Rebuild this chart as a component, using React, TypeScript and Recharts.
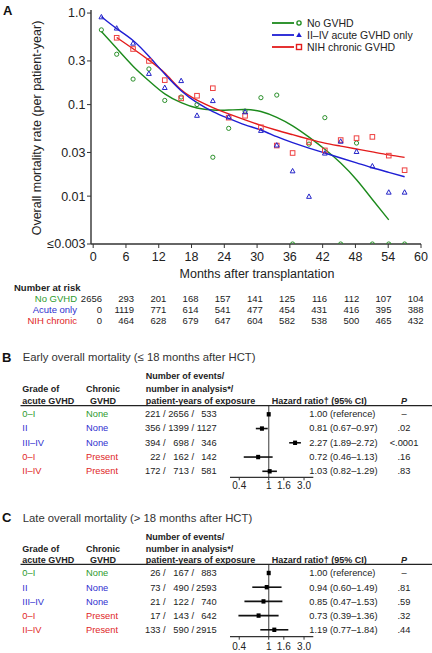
import React from "react";
import {
  ComposedChart,
  Line,
  Scatter,
  XAxis,
  YAxis,
  ReferenceLine,
  ErrorBar,
} from "recharts";

// ---- panel A: mortality rate per 3-month interval (points at interval midpoints)
const intervalMonths = [1.5, 4.3, 7.3, 10.2, 13.1, 16.1, 19.0, 21.9, 24.8, 27.8, 30.7, 33.6, 36.5, 39.5, 42.4, 45.3, 48.2, 51.1, 54.1, 57.0];
const noGvhdRate = [0.655, 0.355, 0.19, 0.245, 0.111, 0.121, 0.1, 0.0266, 0.055, 0.085, 0.119, 0.127, 0.003, 0.037, 0.072, 0.003, 0.038, 0.003, 0.003, 0.003];
const acuteRate = [0.905, 0.682, 0.467, 0.218, 0.153, 0.182, 0.076, 0.11, 0.073, 0.083, 0.052, 0.036, 0.0188, 0.0099, 0.0294, 0.0396, 0.0306, 0.0213, 0.011, 0.011];
const chronicRate = [null, 0.537, 0.405, 0.3, 0.185, 0.117, 0.125, 0.151, 0.072, 0.0755, 0.0565, 0.0357, 0.0296, 0.039, 0.0316, 0.041, 0.043, 0.0444, 0.0277, 0.0192];

// smoothed fits at the same months
const noGvhdFit = [0.629, 0.412, 0.263, 0.182, 0.131, 0.105, 0.0917, 0.0872, 0.0872, 0.0883, 0.084, 0.0724, 0.0586, 0.0441, 0.0325, 0.023, 0.0151, 0.0092, 0.0055, null];
const acuteFit = [0.912, 0.677, 0.502, 0.337, 0.216, 0.142, 0.105, 0.084, 0.0706, 0.0601, 0.0528, 0.0446, 0.0384, 0.0335, 0.0296, 0.0261, 0.0231, 0.0204, 0.0182, 0.0163];
const chronicFit = [null, 0.541, 0.407, 0.306, 0.221, 0.145, 0.112, 0.0928, 0.079, 0.068, 0.0593, 0.0524, 0.0469, 0.0419, 0.0379, 0.0352, 0.0327, 0.0304, 0.0282, 0.0265];

const monthTicks = [0, 6, 12, 18, 24, 30, 36, 42, 48, 54, 60];
const minorMonthTicks = [3, 9, 15, 21, 27, 33, 39, 45, 51, 57];
const rateTicks = [0.003, 0.01, 0.03, 0.1, 0.3, 1];
const minorRateTicks = [0.004, 0.005, 0.006, 0.007, 0.008, 0.009, 0.02, 0.04, 0.05, 0.06, 0.07, 0.08, 0.09, 0.2, 0.4, 0.5, 0.6, 0.7, 0.8, 0.9];

// number at risk
const riskMonths = [0, 6, 12, 18, 24, 30, 36, 42, 48, 54, 60];
const riskNoGvhd = [2656, 293, 201, 168, 157, 141, 125, 116, 112, 107, 104];
const riskAcute = [0, 1119, 771, 614, 541, 477, 454, 431, 416, 395, 388];
const riskChronic = [0, 464, 628, 679, 647, 604, 582, 538, 500, 465, 432];

// ---- panels B and C
const gradeLabels = ["0–I", "II", "III–IV", "0–I", "II–IV"];
const chronicLabels = ["None", "None", "None", "Present", "Present"];
const rowGroups = ["none", "acute", "acute", "chronic", "chronic"];

const earlyEvents = [221, 356, 394, 22, 172];
const earlyN = [2656, 1399, 698, 162, 713];
const earlyYears = [533, 1127, 346, 142, 581];
const earlyHR = [1.0, 0.81, 2.27, 0.72, 1.03];
const earlyLow = [null, 0.67, 1.89, 0.46, 0.82];
const earlyHigh = [null, 0.97, 2.72, 1.13, 1.29];
const earlyP = ["–", ".02", "<.0001", ".16", ".83"];

const lateEvents = [26, 73, 21, 17, 133];
const lateN = [167, 490, 122, 143, 590];
const lateYears = [883, 2593, 740, 642, 2915];
const lateHR = [1.0, 0.94, 0.85, 0.73, 1.19];
const lateLow = [null, 0.6, 0.47, 0.39, 0.77];
const lateHigh = [null, 1.49, 1.53, 1.36, 1.84];
const lateP = ["–", ".81", ".59", ".32", ".44"];

const hrTicks = [0.4, 1, 1.6, 3];

const FONT = '"Liberation Sans", Arial, Helvetica, sans-serif';
const GREEN = "#1c8a1c";
const BLUE = "#1e1ed4";
const RED = "#e31b1b";
const groupColor: Record<string, string> = {
  none: "#2e9a2e",
  acute: "#2f2fcf",
  chronic: "#e02626",
};

const toSeries = (ys: (number | null)[]) =>
  intervalMonths
    .map((x, i) => ({ x, y: ys[i] }))
    .filter((d) => d.y != null);

const formatRate = (v: number) => {
  if (v >= 1) return "1.0";
  if (v <= 0.003) return "≤0.003";
  return String(v);
};

const CircleMark = (p: any) => (
  <circle cx={p.cx} cy={p.cy} r={2.1} fill="none" stroke="#2a8f2a" strokeWidth={1} />
);
const TriangleMark = (p: any) => (
  <path
    d={`M${p.cx},${p.cy - 2.6}L${p.cx + 2.4},${p.cy + 1.8}L${p.cx - 2.4},${p.cy + 1.8}Z`}
    fill="none"
    stroke="#2323c8"
    strokeWidth={1}
  />
);
const SquareMark = (p: any) => (
  <rect x={p.cx - 2.3} y={p.cy - 2.3} width={4.6} height={4.6} fill="none" stroke="#ee4040" strokeWidth={1} />
);
const ForestMark = (p: any) => (
  <rect x={p.cx - 2} y={p.cy - 2.2} width={4} height={4.4} fill="#000" />
);

const axisStyle = { stroke: "#333", strokeWidth: 1.4 };

const RateChart = () => (
  <ComposedChart
    width={432}
    height={282}
    margin={{ top: 10, right: 11, bottom: 2, left: 31 }}
    style={{ fontFamily: FONT }}
  >
    <XAxis
      xAxisId="minor"
      type="number"
      dataKey="x"
      domain={[-0.4, 60]}
      allowDataOverflow
      ticks={minorMonthTicks}
      tickFormatter={() => ""}
      tickSize={2.5}
      height={0}
      axisLine={false}
      tickLine={{ stroke: "#444" }}
    />
    <XAxis
      type="number"
      dataKey="x"
      domain={[-0.4, 60]}
      allowDataOverflow
      ticks={monthTicks}
      tickSize={4}
      tickMargin={4.5}
      height={36}
      axisLine={axisStyle}
      tickLine={{ stroke: "#333" }}
      tick={{ fontSize: 12.5, fill: "#222" }}
    />
    <XAxis
      xAxisId="top"
      orientation="top"
      type="number"
      domain={[-0.4, 60]}
      tick={false}
      tickLine={false}
      height={0}
      axisLine={axisStyle}
    />
    <YAxis
      yAxisId="minor"
      type="number"
      scale="log"
      domain={[0.003, 1.08]}
      allowDataOverflow
      ticks={minorRateTicks}
      tickFormatter={() => ""}
      tickSize={2.5}
      width={0}
      axisLine={false}
      tickLine={{ stroke: "#444" }}
    />
    <YAxis
      type="number"
      dataKey="y"
      scale="log"
      domain={[0.003, 1.08]}
      allowDataOverflow
      ticks={rateTicks}
      tickFormatter={formatRate}
      width={60}
      tickSize={4}
      tickMargin={1.5}
      axisLine={axisStyle}
      tickLine={{ stroke: "#333" }}
      tick={{ fontSize: 12.5, fill: "#222" }}
    />
    <YAxis
      yAxisId="right"
      orientation="right"
      type="number"
      domain={[0, 1]}
      tick={false}
      tickLine={false}
      width={0}
      axisLine={axisStyle}
    />
    <Line data={toSeries(noGvhdFit)} dataKey="y" type="natural" stroke={GREEN} strokeWidth={1.4} dot={false} isAnimationActive={false} />
    <Line data={toSeries(chronicFit)} dataKey="y" type="natural" stroke={RED} strokeWidth={1.4} dot={false} isAnimationActive={false} />
    <Line data={toSeries(acuteFit)} dataKey="y" type="natural" stroke={BLUE} strokeWidth={1.4} dot={false} isAnimationActive={false} />
    <Scatter data={toSeries(noGvhdRate)} shape={CircleMark} isAnimationActive={false} />
    <Scatter data={toSeries(chronicRate)} shape={SquareMark} isAnimationActive={false} />
    <Scatter data={toSeries(acuteRate)} shape={TriangleMark} isAnimationActive={false} />
  </ComposedChart>
);

interface ForestProps {
  plotTop: number;
  plotBottom: number;
  axisHeight: number;
  rowTop: number;
  rowStep: number;
  tickMargin: number;
  hr: number[];
  low: (number | null)[];
  high: (number | null)[];
}

const ForestChart = ({ plotTop, plotBottom, axisHeight, rowTop, rowStep, tickMargin, hr, low, high }: ForestProps) => {
  const data = hr.map((v, i) => ({
    x: v,
    y: i,
    err: [low[i] == null ? 0 : v - (low[i] as number), high[i] == null ? 0 : (high[i] as number) - v],
  }));
  const yDomain = [(plotTop - rowTop) / rowStep, (plotBottom - rowTop) / rowStep];
  return (
    <div style={{ position: "absolute", left: 0, top: plotTop }}>
      <ComposedChart
        width={432}
        height={plotBottom - plotTop + axisHeight}
        margin={{ top: 0, right: 118.7, bottom: 0, left: 230 }}
        style={{ fontFamily: FONT }}
      >
        <XAxis
          type="number"
          dataKey="x"
          scale="log"
          domain={[0.3, 4]}
          allowDataOverflow
          ticks={hrTicks}
          tickFormatter={(v: number) => (v === 3 ? "3.0" : String(v))}
          height={axisHeight}
          tickSize={3}
          tickMargin={tickMargin}
          axisLine={{ stroke: "#333", strokeWidth: 1.2 }}
          tickLine={{ stroke: "#333" }}
          tick={{ fontSize: 10, fill: "#222" }}
        />
        <YAxis type="number" dataKey="y" domain={yDomain} reversed hide />
        <ReferenceLine x={1} stroke="#666" strokeWidth={1.3} />
        <Scatter data={data} shape={ForestMark} isAnimationActive={false}>
          <ErrorBar dataKey="err" direction="x" width={0} stroke="#111" strokeWidth={1.6} isAnimationActive={false} />
        </Scatter>
      </ComposedChart>
    </div>
  );
};

const monthX = (m: number) => 93 + m * 5.46;

const LegendRow = ({ y, color, label, kind }: { y: number; color: string; label: string; kind: string }) => (
  <g>
    <line x1={272} x2={294} y1={y} y2={y} stroke={color} strokeWidth={1.8} />
    {kind === "circle" && <circle cx={299} cy={y} r={2.1} fill="none" stroke={color} strokeWidth={1.3} />}
    {kind === "triangle" && <path d={`M299,${y - 2.8}L301.8,${y + 2}L296.2,${y + 2}Z`} fill={color} />}
    {kind === "square" && <rect x={296.5} y={y - 2.5} width={5} height={5} fill="none" stroke={color} strokeWidth={1.4} />}
    <text x={307} y={y} fontSize={10.5} fill="#222" dominantBaseline="central">
      {label}
    </text>
  </g>
);

interface TableProps {
  letter: string;
  title: string;
  titleY: number;
  headerY: number[];
  lineY: number;
  rowTop: number;
  rowStep: number;
  events: number[];
  n: number[];
  years: number[];
  hr: number[];
  low: (number | null)[];
  high: (number | null)[];
  p: string[];
}

const ForestTable = ({ letter, title, titleY, headerY, lineY, rowTop, rowStep, events, n, years, hr, low, high, p }: TableProps) => {
  const hdr = { fontSize: 9, fontWeight: 700, fill: "#222", dominantBaseline: "central" as const };
  const cell = { fontSize: 9.3, dominantBaseline: "central" as const };
  return (
    <g>
      <text x={2} y={titleY} fontSize={13} fontWeight={700} fill="#111" dominantBaseline="central">{letter}</text>
      <text x={22.7} y={titleY} fontSize={11.3} fill="#333" dominantBaseline="central">{title}</text>
      <text x={145.7} y={headerY[0]} {...hdr}>Number of events/</text>
      <text x={22.3} y={headerY[1]} {...hdr}>Grade of</text>
      <text x={86} y={headerY[1]} {...hdr}>Chronic</text>
      <text x={145.7} y={headerY[1]} {...hdr}>number in analysis*/</text>
      <text x={22.3} y={headerY[2]} {...hdr}>acute GVHD</text>
      <text x={90} y={headerY[2]} {...hdr}>GVHD</text>
      <text x={145.7} y={headerY[2]} {...hdr}>patient-years of exposure</text>
      <text x={271.7} y={headerY[2]} {...hdr}>Hazard ratio† (95% CI)</text>
      <text x={404} y={headerY[2]} {...hdr} fontStyle="italic" textAnchor="middle">P</text>
      <line x1={20.5} x2={432} y1={lineY} y2={lineY} stroke="#222" strokeWidth={1.2} />
      {gradeLabels.map((g, i) => {
        const y = rowTop + i * rowStep;
        const col = groupColor[rowGroups[i]];
        const hrText =
          low[i] == null
            ? `${hr[i].toFixed(2)} (reference)`
            : `${hr[i].toFixed(2)} (${(low[i] as number).toFixed(2)}–${(high[i] as number).toFixed(2)})`;
        return (
          <g key={i}>
            <text x={22.3} y={y} {...cell} fill={col}>{g}</text>
            <text x={86} y={y} {...cell} fill={col}>{chronicLabels[i]}</text>
            <text x={165.7} y={y} {...cell} fill="#222" textAnchor="end">{`${events[i]} /`}</text>
            <text x={194} y={y} {...cell} fill="#222" textAnchor="end">{`${n[i]} /`}</text>
            <text x={216.7} y={y} {...cell} fill="#222" textAnchor="end">{years[i]}</text>
            <text x={309.3} y={y} {...cell} fill="#222">{hrText}</text>
            <text x={404} y={y} {...cell} fill="#222" textAnchor="middle">{p[i]}</text>
          </g>
        );
      })}
    </g>
  );
};

const App = () => {
  const riskRows = [
    { label: "No GVHD", color: groupColor.none, values: riskNoGvhd, y: 298.3 },
    { label: "Acute only", color: groupColor.acute, values: riskAcute, y: 309.3 },
    { label: "NIH chronic", color: groupColor.chronic, values: riskChronic, y: 320.3 },
  ];
  return (
    <div style={{ position: "absolute", left: 0, top: 0, width: 432, height: 653, background: "#fff", fontFamily: FONT, overflow: "hidden" }}>
      <div style={{ position: "absolute", left: 0, top: 0 }}>
        <RateChart />
      </div>
      <ForestChart plotTop={405.7} plotBottom={477} axisHeight={14} rowTop={414} rowStep={14.25} tickMargin={1.4} hr={earlyHR} low={earlyLow} high={earlyHigh} />
      <ForestChart plotTop={564.3} plotBottom={637} axisHeight={16} rowTop={573.3} rowStep={14.2} tickMargin={3.4} hr={lateHR} low={lateLow} high={lateHigh} />
      <svg width={432} height={653} style={{ position: "absolute", left: 0, top: 0, pointerEvents: "none", fontFamily: FONT }}>
        <text x={3} y={10} fontSize={13} fontWeight={700} fill="#111" dominantBaseline="central">A</text>
        <text transform="translate(37,128) rotate(-90)" fontSize={12.5} fill="#222" textAnchor="middle" dominantBaseline="central">
          Overall mortality rate (per patient-year)
        </text>
        <text x={257} y={274} fontSize={12.5} fill="#222" textAnchor="middle" dominantBaseline="central">
          Months after transplantation
        </text>
        <LegendRow y={23} color={GREEN} label="No GVHD" kind="circle" />
        <LegendRow y={35} color={BLUE} label="II–IV acute GVHD only" kind="triangle" />
        <LegendRow y={47} color={RED} label="NIH chronic GVHD" kind="square" />

        <text x={14} y={287.3} fontSize={9.5} fontWeight={700} fill="#222" dominantBaseline="central">Number at risk</text>
        {riskRows.map((r) => (
          <g key={r.label}>
            <text x={77} y={r.y} fontSize={9.5} fill={r.color} textAnchor="end" dominantBaseline="central">{r.label}</text>
            {r.values.map((v, i) => (
              <text key={i} x={monthX(riskMonths[i]) + 9 - riskMonths[i] * 0.1} y={r.y} fontSize={9.5} fill="#222" textAnchor="end" dominantBaseline="central">
                {v}
              </text>
            ))}
          </g>
        ))}

        <ForestTable
          letter="B"
          title="Early overall mortality (≤ 18 months after HCT)"
          titleY={357}
          headerY={[375.5, 388.5, 400.5]}
          lineY={405.7}
          rowTop={414}
          rowStep={14.25}
          events={earlyEvents}
          n={earlyN}
          years={earlyYears}
          hr={earlyHR}
          low={earlyLow}
          high={earlyHigh}
          p={earlyP}
        />
        <ForestTable
          letter="C"
          title="Late overall mortality (> 18 months after HCT)"
          titleY={517.7}
          headerY={[537, 548.5, 559.5]}
          lineY={564.3}
          rowTop={573.3}
          rowStep={14.2}
          events={lateEvents}
          n={lateN}
          years={lateYears}
          hr={lateHR}
          low={lateLow}
          high={lateHigh}
          p={lateP}
        />
      </svg>
    </div>
  );
};

export default App;
